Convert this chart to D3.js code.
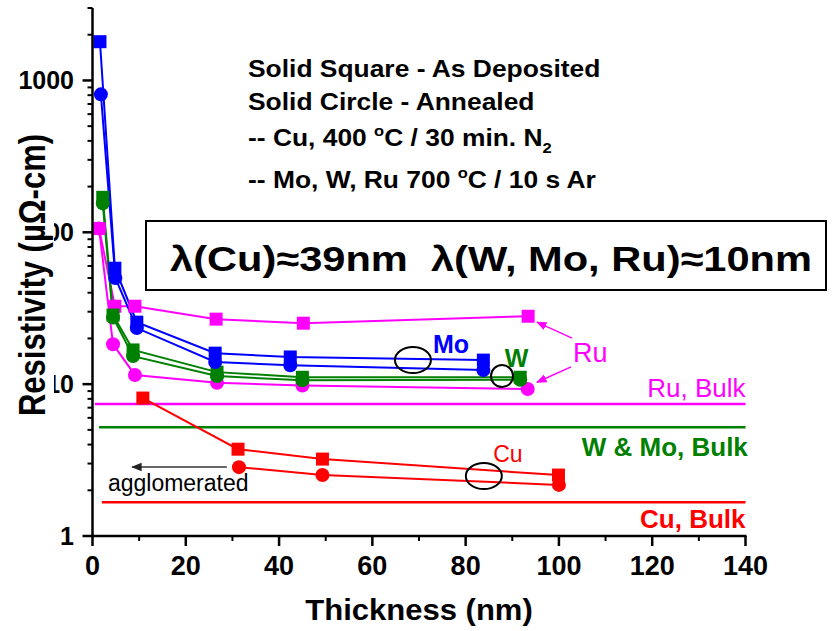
<!DOCTYPE html>
<html>
<head>
<meta charset="utf-8">
<script src="https://cdn.jsdelivr.net/npm/d3@7"></script>
<style>
  body { margin: 0; background: #fff; }
  text { font-family: "Liberation Sans", Arial, sans-serif; }
</style>
</head>
<body>
<svg id="chart" width="838" height="631"></svg>
<script>
// Film thickness (nm) vs. resistivity (µΩ·cm)
const moDepX = [1.6, 4.8, 9.5, 26.3, 42.4, 83.8];
const moDepY = [1800, 58, 25.6, 16.0, 15.1, 14.4];
const moAnnX = [1.8, 4.9, 9.5, 26.3, 42.4, 83.8];
const moAnnY = [810, 50, 23.4, 14.0, 13.3, 12.4];

const wDepX = [2.2, 4.4, 8.7, 26.7, 45.0, 91.7];
const wDepY = [170, 28.5, 16.8, 12.0, 11.1, 11.1];
const wAnnX = [2.2, 4.4, 8.7, 26.7, 45.0, 91.7];
const wAnnY = [155, 27.5, 15.3, 11.3, 10.6, 10.7];

const ruDepX = [1.4, 4.8, 9.1, 26.5, 45.2, 93.4];
const ruDepY = [106, 32.6, 32.6, 26.8, 25.2, 28.0];
const ruAnnX = [1.4, 4.4, 9.1, 26.7, 45.0, 93.3];
const ruAnnY = [106, 18.3, 11.5, 10.2, 9.8, 9.3];

const cuDepX = [10.8, 31.2, 49.3, 99.9];
const cuDepY = [8.1, 3.73, 3.21, 2.52];
const cuAnnX = [31.4, 49.3, 100];
const cuAnnY = [2.84, 2.52, 2.17];

// Bulk reference resistivities
const bulkLabels = ["Ru, Bulk", "W & Mo, Bulk", "Cu, Bulk"];
const bulkValues = [7.4, 5.2, 1.67];
const bulkStart = [0.5, 1.4, 2.0];

const xTickValues = [0, 20, 40, 60, 80, 100, 120, 140];
const yTickValues = [1, 10, 100, 1000];
const yTickLabels = ["1", "10", "100", "1000"];

const C = { mo: "#0000ff", w: "#008000", ru: "#ff00ff", cu: "#ff0000" };

const svg = d3.select("#chart");
const x = d3.scaleLinear().domain([0, 140]).range([92.5, 745.5]);
const y = d3.scaleLog().domain([1, 3000]).range([536, 8]);

// ---- series ----
const series = [
  { xs: cuDepX, ys: cuDepY, color: C.cu, shape: "square" },
  { xs: cuAnnX, ys: cuAnnY, color: C.cu, shape: "circle" },
  { xs: ruAnnX, ys: ruAnnY, color: C.ru, shape: "circle" },
  { xs: ruDepX, ys: ruDepY, color: C.ru, shape: "square" },
  { xs: wAnnX, ys: wAnnY, color: C.w, shape: "circle" },
  { xs: wDepX, ys: wDepY, color: C.w, shape: "square" },
  { xs: moAnnX, ys: moAnnY, color: C.mo, shape: "circle" },
  { xs: moDepX, ys: moDepY, color: C.mo, shape: "square" }
];

// bulk lines
const bulkColors = [C.ru, C.w, C.cu];
bulkValues.forEach((v, i) => {
  svg.append("line")
    .attr("x1", x(bulkStart[i])).attr("x2", x(140))
    .attr("y1", y(v)).attr("y2", y(v))
    .attr("stroke", bulkColors[i]).attr("stroke-width", 2.6);
});

const line = d3.line().x(d => x(d[0])).y(d => y(d[1]));
series.forEach(s => {
  const pts = s.xs.map((v, i) => [v, s.ys[i]]);
  svg.append("path").attr("d", line(pts))
    .attr("fill", "none").attr("stroke", s.color).attr("stroke-width", 2);
});
series.forEach(s => {
  const pts = s.xs.map((v, i) => [v, s.ys[i]]);
  const g = svg.append("g").attr("fill", s.color);
  if (s.shape === "square") {
    g.selectAll("rect").data(pts).join("rect")
      .attr("x", d => x(d[0]) - 6.5).attr("y", d => y(d[1]) - 6.5)
      .attr("width", 13).attr("height", 13);
  } else {
    g.selectAll("circle").data(pts).join("circle")
      .attr("cx", d => x(d[0])).attr("cy", d => y(d[1])).attr("r", 7);
  }
});

// ---- axes ----
const axisG = svg.append("g").attr("stroke", "#000");
axisG.append("line").attr("x1", x(0)).attr("x2", x(0)).attr("y1", y(1)).attr("y2", y(3000)).attr("stroke-width", 2.5);
axisG.append("line").attr("x1", x(0) - 1).attr("x2", x(140) + 1).attr("y1", y(1)).attr("y2", y(1)).attr("stroke-width", 2.5);

// y ticks (major + minor)
const yMinor = [];
[1, 10, 100, 1000].forEach(d => { for (let k = 2; k <= 9; k++) if (d * k <= 3000) yMinor.push(d * k); });
axisG.selectAll(".ymin").data(yMinor).join("line")
  .attr("x1", x(0) - 5).attr("x2", x(0)).attr("y1", d => y(d)).attr("y2", d => y(d)).attr("stroke-width", 2);
axisG.selectAll(".ymaj").data(yTickValues).join("line")
  .attr("x1", x(0) - 10).attr("x2", x(0)).attr("y1", d => y(d)).attr("y2", d => y(d)).attr("stroke-width", 2.5);
// x ticks
const xMinor = d3.range(10, 140, 20);
axisG.selectAll(".xmin").data(xMinor).join("line")
  .attr("x1", d => x(d)).attr("x2", d => x(d)).attr("y1", y(1)).attr("y2", y(1) + 5).attr("stroke-width", 2);
axisG.selectAll(".xmaj").data(xTickValues).join("line")
  .attr("x1", d => x(d)).attr("x2", d => x(d)).attr("y1", y(1)).attr("y2", y(1) + 10).attr("stroke-width", 2.5);

svg.selectAll(".xlab").data(xTickValues).join("text")
  .attr("x", d => x(d)).attr("y", 575)
  .attr("text-anchor", "middle").attr("font-size", 27).attr("font-weight", "bold")
  .text(d => d);
svg.selectAll(".ylab").data(yTickValues).join("text")
  .attr("x", 74).attr("y", d => y(d) + 9)
  .attr("text-anchor", "end").attr("font-size", 25).attr("font-weight", "bold")
  .text((d, i) => yTickLabels[i]);

// axis titles
svg.append("rect").attr("x", 14).attr("y", 128).attr("width", 40).attr("height", 294).attr("fill", "#fff");
svg.append("text")
  .attr("transform", "translate(45,275) rotate(-90) scale(1,1.2)")
  .attr("text-anchor", "middle").attr("font-size", 31).attr("font-weight", "bold")
  .text("Resistivity (\u00b5\u03a9-cm)");
svg.append("text")
  .attr("transform", `translate(${x(70)},620) scale(1.07,1)`)
  .attr("text-anchor", "middle").attr("font-size", 29).attr("font-weight", "bold")
  .text("Thickness (nm)");

// ---- legend notes ----
function note(yb, parts) {
  const t = svg.append("text")
    .attr("transform", `translate(248,${yb}) scale(1.1,1)`)
    .attr("font-size", 24).attr("font-weight", "bold");
  parts.forEach(p => {
    const ts = t.append("tspan").text(p.t);
    if (p.sup) ts.attr("font-size", 15).attr("dy", -10);
    if (p.sub) ts.attr("font-size", 15).attr("dy", 7);
    if (p.back) ts.attr("dy", p.back);
  });
}
note(77, [{ t: "Solid Square - As Deposited" }]);
note(110, [{ t: "Solid Circle - Annealed" }]);
note(146, [{ t: "-- Cu, 400 " }, { t: "o", sup: true }, { t: "C / 30 min. N", back: 10 }, { t: "2", sub: true }]);
note(188, [{ t: "-- Mo, W, Ru 700 " }, { t: "o", sup: true }, { t: "C / 10 s Ar", back: 10 }]);

// ---- mean free path box ----
svg.append("rect").attr("x", 146).attr("y", 221).attr("width", 680).attr("height", 69)
  .attr("fill", "#fff").attr("stroke", "#000").attr("stroke-width", 2);
svg.append("text").attr("x", 170).attr("y", 271)
  .attr("font-family", "DejaVu Sans, Verdana, sans-serif")
  .attr("font-size", 35).attr("font-weight", "bold")
  .attr("textLength", 642).attr("lengthAdjust", "spacingAndGlyphs")
  .text("\u03bb(Cu)\u224839nm\u00a0\u00a0\u03bb(W, Mo, Ru)\u224810nm");

// ---- annotations ----
function label(txt, xv, yv, color, size, weight, anchor) {
  svg.append("text").attr("x", x(xv)).attr("y", y(yv))
    .attr("fill", color).attr("font-size", size).attr("font-weight", weight)
    .attr("text-anchor", anchor || "start").text(txt);
}
label("Mo", 73.0, 16.0, C.mo, 25, "bold");
label("W", 88.4, 13.0, C.w, 25, "bold");
label("Ru", 103, 14.0, C.ru, 27, "normal");
label("Cu", 85.9, 3.07, C.cu, 23, "normal");
label("Ru, Bulk", 140, 8.2, C.ru, 26, "normal", "end");
label("W & Mo, Bulk", 140.5, 3.36, C.w, 26, "bold", "end");
label("Cu, Bulk", 140, 1.13, C.cu, 26, "bold", "end");
label("agglomerated", 3.3, 1.98, "#000", 23, "normal");

// ellipses grouping annealed/as-deposited pairs
const ringG = svg.append("g").attr("fill", "none").attr("stroke", "#000").attr("stroke-width", 2);
ringG.append("ellipse").attr("cx", x(68.7)).attr("cy", y(14.4)).attr("rx", 18).attr("ry", 13);
ringG.append("ellipse").attr("cx", x(87.8)).attr("cy", y(11.3)).attr("rx", 11).attr("ry", 11);
ringG.append("ellipse").attr("cx", x(83.9)).attr("cy", y(2.48)).attr("rx", 18).attr("ry", 13);

// arrows
const defs = svg.append("defs");
function marker(id, color) {
  defs.append("marker").attr("id", id).attr("viewBox", "0 0 10 10")
    .attr("refX", 9).attr("refY", 5).attr("markerWidth", 7).attr("markerHeight", 7)
    .attr("orient", "auto-start-reverse")
    .append("path").attr("d", "M0,1 L10,5 L0,9 Z").attr("fill", color);
}
marker("arrRu", C.ru);
marker("arrK", "#222");
function arrow(x1, y1, x2, y2, color, id, w) {
  svg.append("line").attr("x1", x(x1)).attr("y1", y(y1)).attr("x2", x(x2)).attr("y2", y(y2))
    .attr("stroke", color).attr("stroke-width", w).attr("marker-end", `url(#${id})`);
}
arrow(102.8, 20.1, 95.3, 25.6, C.ru, "arrRu", 1.5);
arrow(102.6, 13.0, 95.3, 10.3, C.ru, "arrRu", 1.5);
arrow(28.8, 2.85, 8.5, 2.85, "#333", "arrK", 1.5);
</script>
</body>
</html>
